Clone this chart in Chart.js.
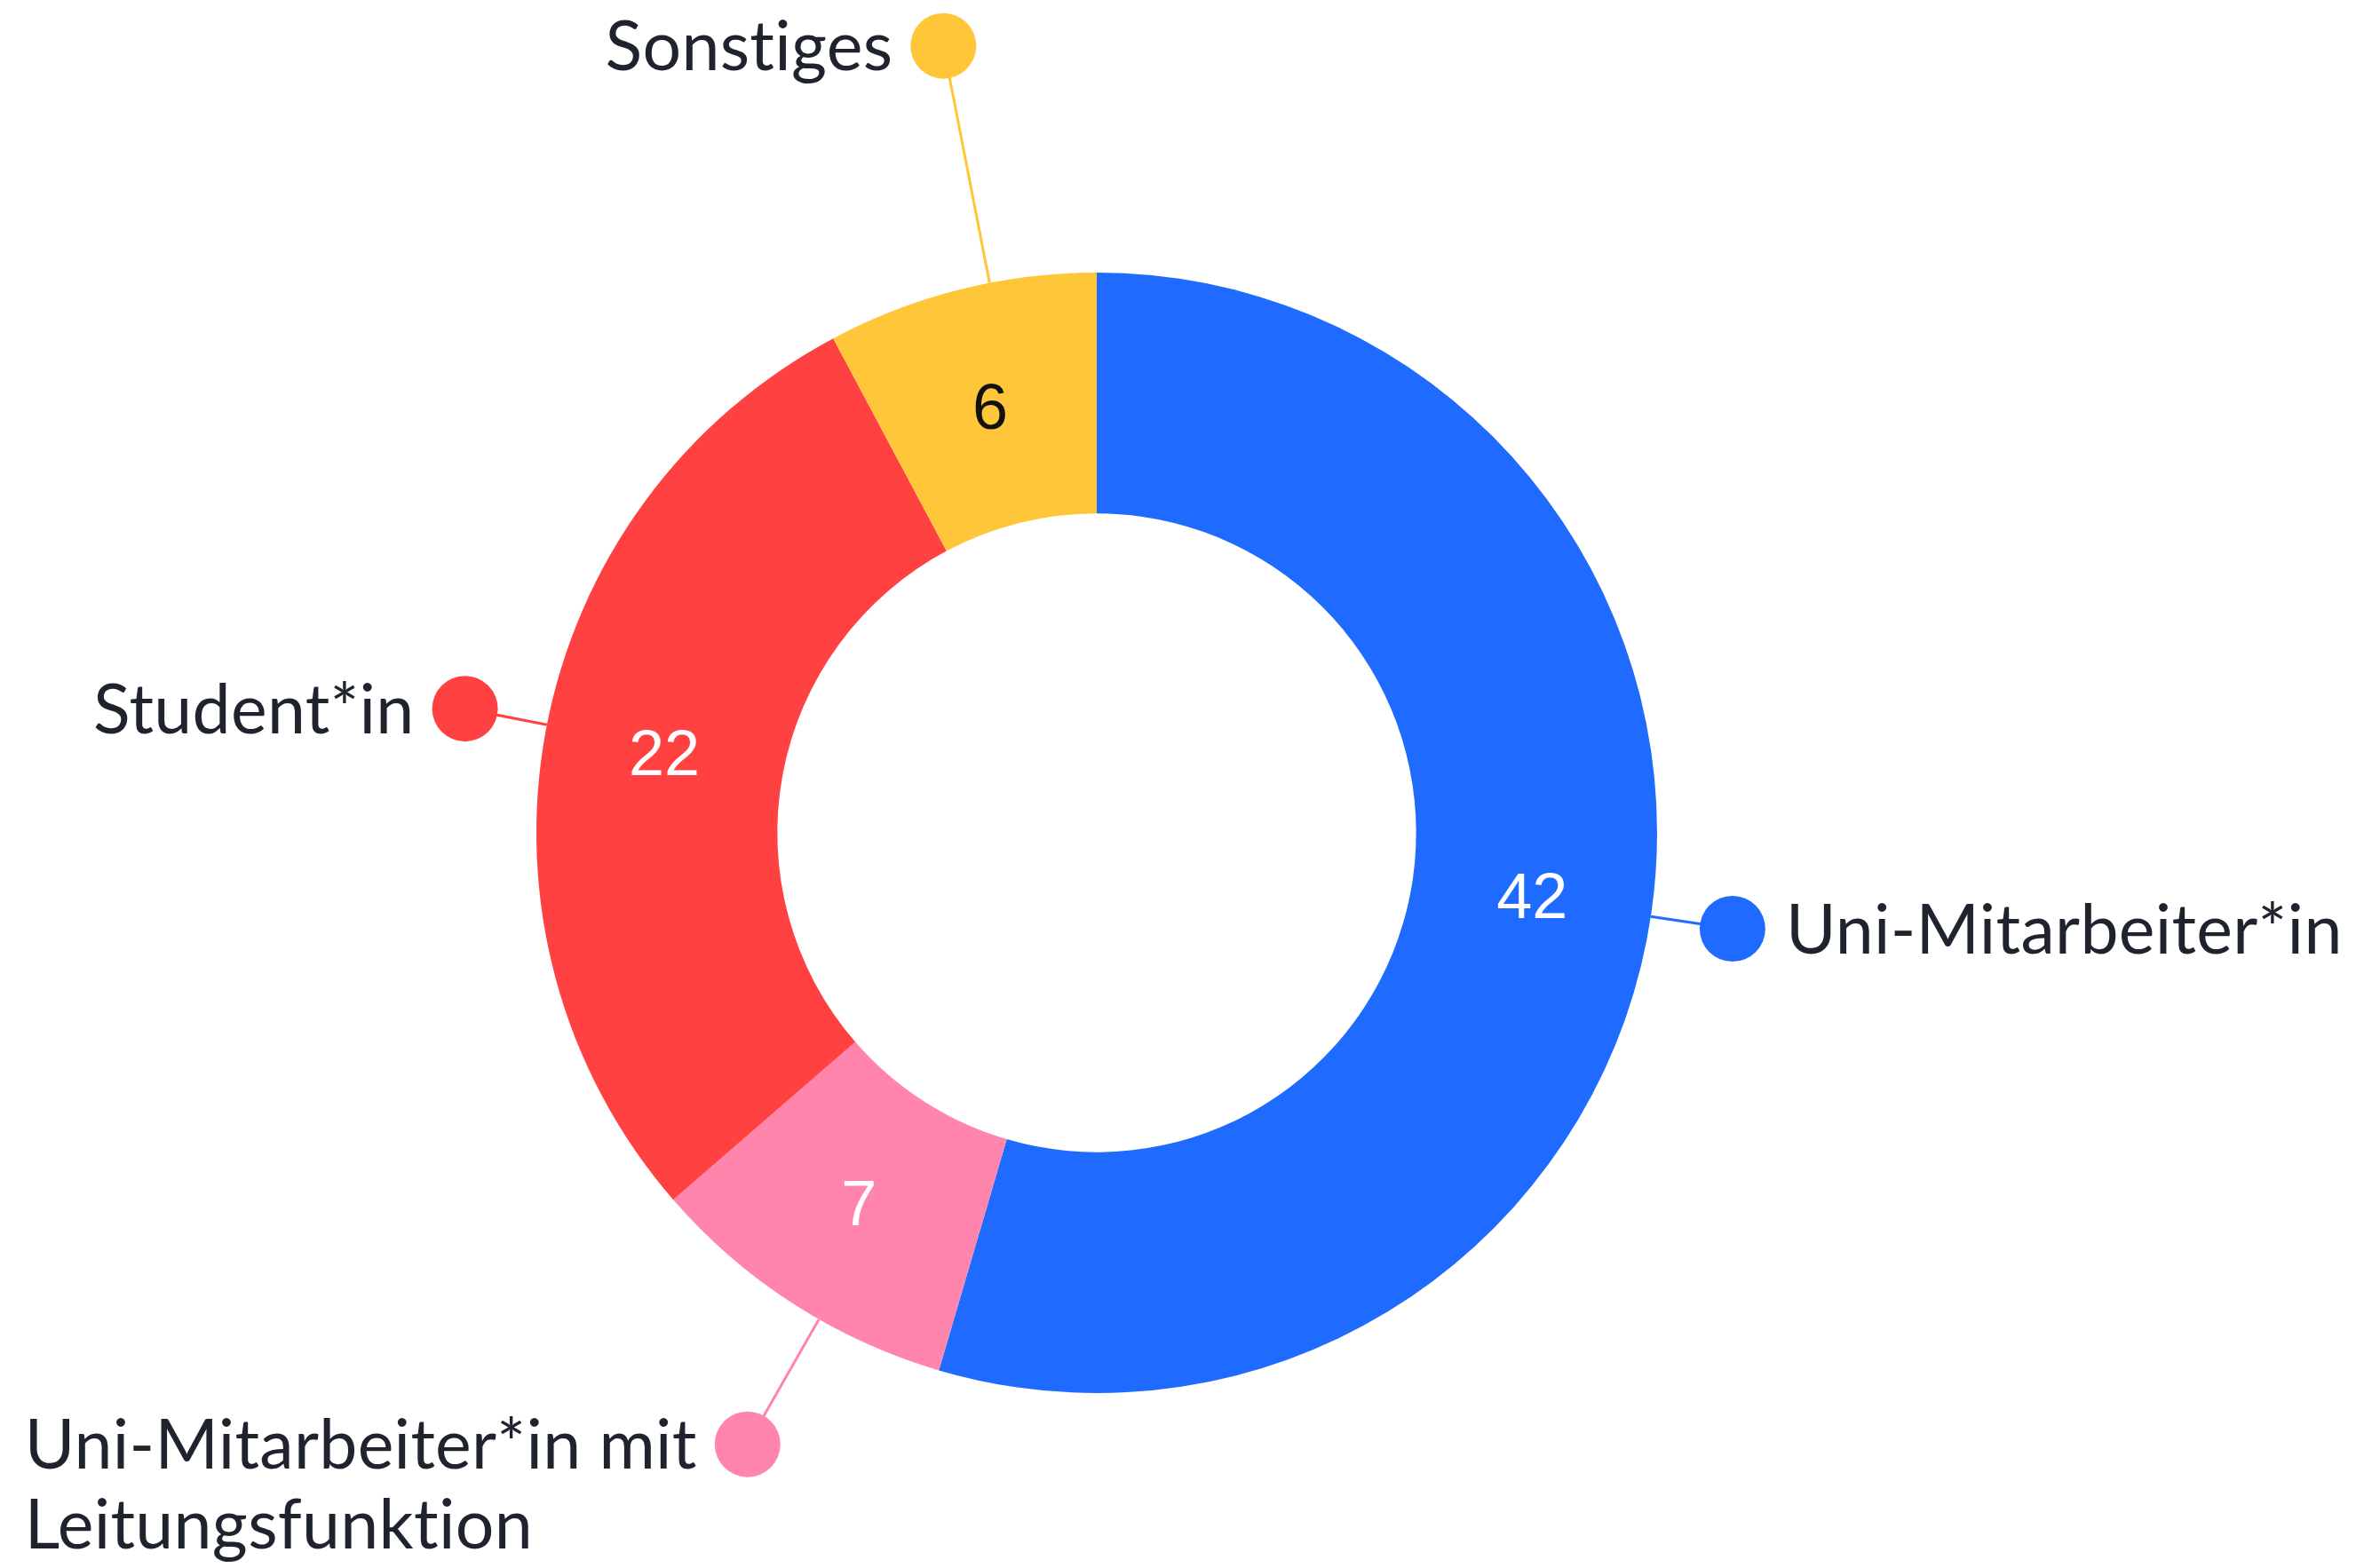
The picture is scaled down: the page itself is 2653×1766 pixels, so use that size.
<!DOCTYPE html>
<html lang="de">
<head>
<meta charset="utf-8">
<title>Doughnut</title>
<script src="https://cdn.jsdelivr.net/npm/chart.js@4/dist/chart.umd.min.js"></script>
<style>
    html, body { margin: 0; padding: 0; background: #ffffff; }
    #wrap { width: 2653px; height: 1766px; }
</style>
</head>
<body>
<div id="wrap"><canvas id="donut" width="2653" height="1766"></canvas></div>
<script>
// Data
const categories = [
    'Uni-Mitarbeiter*in',
    ['Uni-Mitarbeiter*in mit', 'Leitungsfunktion'],
    'Student*in',
    'Sonstiges'
];
const counts = [42, 7, 22, 6];
const sliceColors = ['#1f6bff', '#ff85ad', '#ff4141', '#ffc639'];
const valueColors = ['#ffffff', '#ffffff', '#ffffff', '#111111'];

// Callout placement (distance beyond the ring, angle tweak in degrees)
const calloutDist = [93, 162, 94, 272];
const calloutShift = [0.4, -3, 0.6, 3];

const LABEL_SIZE = 77;
const LABEL_FONT = LABEL_SIZE + 'px Lato, "Noto Sans", sans-serif';
const VALUE_SIZE = 72;
const VALUE_FONT = VALUE_SIZE + 'px "Liberation Sans", Arial, sans-serif';

// Draws values inside slices and labels with leader lines + dots
const calloutPlugin = {
    id: 'callouts',
    afterDatasetsDraw(chart) {
        const ctx = chart.ctx;
        const meta = chart.getDatasetMeta(0);

        meta.data.forEach((arc, i) => {
            const p = arc.getProps(['x', 'y', 'startAngle', 'endAngle', 'innerRadius', 'outerRadius'], true);
            const mid = (p.startAngle + p.endAngle) / 2;
            const rMid = (p.innerRadius + p.outerRadius) / 2;

            ctx.save();

            // value inside the slice
            ctx.font = VALUE_FONT;
            ctx.fillStyle = valueColors[i];
            ctx.textAlign = 'center';
            ctx.textBaseline = 'alphabetic';
            ctx.fillText(String(counts[i]),
                p.x + Math.cos(mid) * rMid,
                p.y + Math.sin(mid) * rMid + VALUE_SIZE * 0.716 / 2);

            // leader line + dot
            const a = mid + calloutShift[i] * Math.PI / 180;
            const d = p.outerRadius + calloutDist[i];
            const dotX = p.x + Math.cos(a) * d;
            const dotY = p.y + Math.sin(a) * d;

            ctx.strokeStyle = sliceColors[i];
            ctx.lineWidth = 3;
            ctx.beginPath();
            ctx.moveTo(p.x + Math.cos(a) * p.outerRadius, p.y + Math.sin(a) * p.outerRadius);
            ctx.lineTo(dotX, dotY);
            ctx.stroke();

            ctx.fillStyle = sliceColors[i];
            ctx.beginPath();
            ctx.arc(dotX, dotY, 37, 0, Math.PI * 2);
            ctx.fill();

            // label text (tiny spacing keeps "ti" from turning into a ligature)
            const lines = Array.isArray(categories[i]) ? categories[i] : [categories[i]];
            ctx.font = LABEL_FONT;
            ctx.letterSpacing = '0.3px';
            ctx.fillStyle = '#1e232e';
            ctx.textAlign = 'left';
            const widest = Math.max(...lines.map(l => ctx.measureText(l).width));
            const onRight = Math.cos(a) > 0;
            const textX = onRight ? dotX + 60 : dotX - 57 - widest;
            const firstBase = dotY + LABEL_SIZE * 0.72 / 2;
            lines.forEach((line, j) => {
                ctx.fillText(line, textX, firstBase + j * 90);
            });

            ctx.restore();
        });
    }
};

const ctx = document.getElementById('donut').getContext('2d');

new Chart(ctx, {
    type: 'doughnut',
    data: {
        labels: categories,
        datasets: [{
            data: counts,
            backgroundColor: sliceColors,
            borderWidth: 0
        }]
    },
    options: {
        responsive: false,
        animation: false,
        cutout: '57%',
        layout: {
            padding: { left: 604, right: 787, top: 307, bottom: 197 }
        },
        plugins: {
            legend: { display: false },
            tooltip: { enabled: false }
        }
    },
    plugins: [calloutPlugin]
});
</script>
</body>
</html>
